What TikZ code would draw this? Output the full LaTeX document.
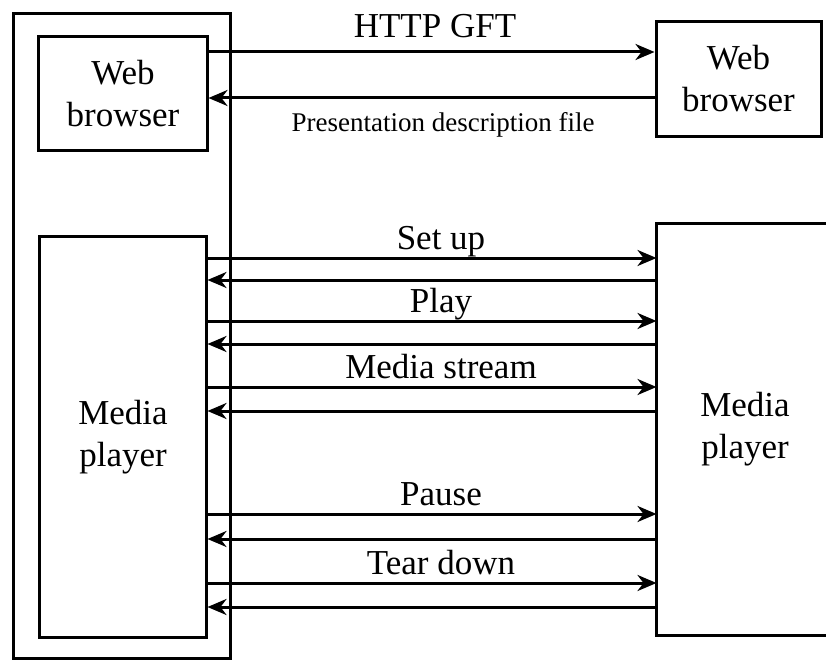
\documentclass[tikz,border=0pt]{standalone}
\usepackage{fontspec}
\setmainfont{Liberation Serif}
\usetikzlibrary{arrows.meta,calc}
\begin{document}
\begin{tikzpicture}[x=1bp,y=-1bp, line width=3bp,
  box/.style={draw, rectangle, inner sep=0pt, align=center, font=\fontsize{35bp}{42bp}\selectfont},
  arr/.style={-{Stealth[length=19bp,width=16bp,inset=6bp]}},
  lbl/.style={font=\fontsize{35bp}{42bp}\selectfont, anchor=base, inner sep=0pt},
  small/.style={font=\fontsize{27bp}{32bp}\selectfont, anchor=base, inner sep=0pt}]
\useasboundingbox (0,0) rectangle (826,663);
% client side
\node[box, minimum width=216bp, minimum height=644bp] (client) at (122,336) {};
\node[box, minimum width=168bp, minimum height=113bp] (wbL) at (123,93.5) {Web\\browser};
\node[box, minimum width=166bp, minimum height=400bp] (mpL) at (123,437) {Media\\player};
% server side
\node[box, minimum width=165bp, minimum height=114bp] (wbR) at (738.5,79) {Web\\browser};
\node[box, draw=none, minimum width=174bp, minimum height=409bp] (mpR) at (745,429.5) {Media\\player};
\draw (mpR.north east) -- (mpR.north west) -- (mpR.south west) -- (mpR.south east);
% web exchange
\draw[arr] (wbL.east |- 0,52) -- (wbR.west |- 0,52);
\node[lbl] (lhttp) at (435,38) {HTTP GFT};
\draw[arr] (wbR.west |- 0,98) -- (wbL.east |- 0,98);
\node[small] (lpres) at (443,132) {Presentation description file};
% media exchange
\foreach \ya/\yb/\t [count=\i] in {258/280/Set up, 321/344/Play, 387/411/Media stream, 514/539/Pause, 583/607/Tear down}{
  \draw[arr] (mpL.east |- 0,\ya) -- (mpR.west |- 0,\ya);
  \draw[arr] (mpR.west |- 0,\yb) -- (mpL.east |- 0,\yb);
  \node[lbl] (lab\i) at (441,\ya-9) {\t};
}
\end{tikzpicture}
\end{document}
